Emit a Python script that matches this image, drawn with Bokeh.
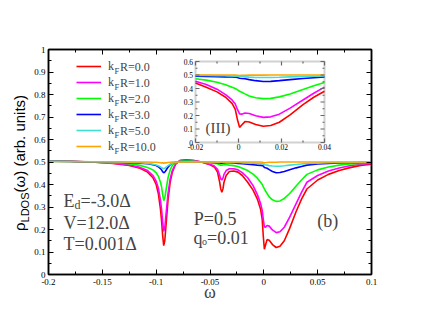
from bokeh.plotting import figure
from bokeh.models import (Range1d, LinearAxis, FixedTicker, Label, Legend, LegendItem,
                          BoxAnnotation, Div, ColumnDataSource)
from bokeh.core.properties import value
from bokeh.layouts import column
from bokeh.embed import file_html
from bokeh.resources import INLINE

# ---------------- data ----------------
omega = [-0.2, -0.18, -0.16, -0.14, -0.125, -0.115, -0.108, -0.103, -0.1, -0.098,
         -0.096, -0.095, -0.094, -0.093, -0.092, -0.091, -0.09, -0.089, -0.087, -0.085,
         -0.082, -0.078, -0.072, -0.065, -0.058, -0.05, -0.046, -0.043, -0.041, -0.04,
         -0.039, -0.038, -0.037, -0.035, -0.032, -0.028, -0.024, -0.02, -0.015, -0.01,
         -0.006, -0.003, -0.0015, -0.0005, 0.0005, 0.0015, 0.003, 0.005, 0.008, 0.0115,
         0.015, 0.019, 0.024, 0.03, 0.035, 0.04, 0.05, 0.06, 0.07, 0.08,
         0.09, 0.1]

rho_kfr_0 = [0.504, 0.503, 0.5, 0.494, 0.485, 0.472, 0.455, 0.43, 0.40, 0.36,
             0.29, 0.24, 0.175, 0.128, 0.15, 0.21, 0.27, 0.33, 0.41, 0.455,
             0.49, 0.506, 0.51, 0.507, 0.5, 0.488, 0.478, 0.455, 0.41, 0.38,
             0.366, 0.38, 0.41, 0.44, 0.458, 0.46, 0.455, 0.44, 0.41, 0.375,
             0.335, 0.29, 0.245, 0.17, 0.112, 0.13, 0.155, 0.152, 0.133, 0.12,
             0.126, 0.15, 0.205, 0.28, 0.335, 0.38, 0.42, 0.445, 0.462, 0.475,
             0.485, 0.49]

rho_kfr_1 = [0.504, 0.503, 0.5, 0.495, 0.487, 0.476, 0.462, 0.44, 0.415, 0.385,
             0.33, 0.29, 0.235, 0.192, 0.21, 0.26, 0.31, 0.36, 0.425, 0.462,
             0.492, 0.506, 0.509, 0.506, 0.5, 0.49, 0.482, 0.468, 0.44, 0.425,
             0.42, 0.428, 0.445, 0.462, 0.47, 0.47, 0.465, 0.453, 0.43, 0.395,
             0.355, 0.315, 0.285, 0.245, 0.212, 0.21, 0.218, 0.215, 0.198, 0.186,
             0.19, 0.21, 0.255, 0.315, 0.365, 0.41, 0.44, 0.46, 0.473, 0.483,
             0.49, 0.494]

rho_kfr_2 = [0.503, 0.502, 0.5, 0.497, 0.492, 0.485, 0.476, 0.465, 0.452, 0.437,
             0.41, 0.39, 0.355, 0.328, 0.34, 0.37, 0.40, 0.43, 0.465, 0.485,
             0.497, 0.503, 0.505, 0.503, 0.5, 0.496, 0.494, 0.492, 0.488, 0.486,
             0.486, 0.487, 0.488, 0.488, 0.486, 0.484, 0.48, 0.472, 0.462, 0.446,
             0.428, 0.41, 0.40, 0.39, 0.38, 0.372, 0.36, 0.345, 0.332, 0.325,
             0.327, 0.338, 0.36, 0.393, 0.42, 0.445, 0.465, 0.478, 0.486, 0.491,
             0.494, 0.496]

rho_kfr_3 = [0.503, 0.502, 0.5, 0.499, 0.497, 0.495, 0.492, 0.488, 0.484, 0.479,
             0.471, 0.465, 0.457, 0.452, 0.455, 0.462, 0.47, 0.477, 0.488, 0.495,
             0.499, 0.501, 0.502, 0.501, 0.5, 0.499, 0.498, 0.497, 0.496, 0.495,
             0.495, 0.496, 0.496, 0.497, 0.497, 0.496, 0.494, 0.492, 0.49, 0.488,
             0.486, 0.485, 0.484, 0.482, 0.476, 0.474, 0.472, 0.466, 0.458, 0.452,
             0.453, 0.458, 0.466, 0.474, 0.48, 0.486, 0.491, 0.494, 0.496, 0.497,
             0.498, 0.498]

rho_kfr_5 = [0.503, 0.502, 0.501, 0.5, 0.499, 0.497, 0.494, 0.49, 0.487, 0.483,
             0.478, 0.475, 0.472, 0.47, 0.472, 0.476, 0.48, 0.484, 0.49, 0.495,
             0.498, 0.5, 0.501, 0.501, 0.5, 0.5, 0.5, 0.499, 0.499, 0.499,
             0.499, 0.499, 0.499, 0.499, 0.499, 0.498, 0.498, 0.497, 0.496, 0.495,
             0.494, 0.493, 0.492, 0.491, 0.488, 0.487, 0.486, 0.484, 0.482, 0.481,
             0.481, 0.483, 0.486, 0.489, 0.491, 0.493, 0.495, 0.497, 0.498, 0.498,
             0.499, 0.499]

rho_kfr_10 = [0.502, 0.502, 0.501, 0.501, 0.5, 0.5, 0.5, 0.499, 0.499, 0.498,
              0.497, 0.496, 0.496, 0.495, 0.496, 0.496, 0.497, 0.498, 0.499, 0.5,
              0.5, 0.5, 0.5, 0.5, 0.5, 0.5, 0.5, 0.5, 0.5, 0.5,
              0.5, 0.5, 0.5, 0.5, 0.5, 0.5, 0.5, 0.5, 0.5, 0.5,
              0.5, 0.5, 0.499, 0.498, 0.496, 0.497, 0.498, 0.499, 0.499, 0.499,
              0.5, 0.5, 0.5, 0.5, 0.5, 0.5, 0.5, 0.5, 0.5, 0.5,
              0.5, 0.5]

series = [rho_kfr_0, rho_kfr_1, rho_kfr_2, rho_kfr_3, rho_kfr_5, rho_kfr_10]
series_labels = ["R=0.0", "R=1.0", "R=2.0", "R=3.0", "R=5.0", "R=10.0"]
series_colors = ["#ff0000", "#ff00ff", "#00ff00", "#0000ff", "#40e0d0", "#ffa500"]

x_ticks = [-0.2, -0.15, -0.1, -0.05, 0.0, 0.05, 0.1]
x_tick_labels = ["-0.2", "-0.15", "-0.1", "-0.05", "0", "0.05", "0.1"]
x_minor_ticks = [-0.175, -0.125, -0.075, -0.025, 0.025, 0.075]
y_ticks = [0.0, 0.1, 0.2, 0.3, 0.4, 0.5, 0.6, 0.7, 0.8, 0.9, 1.0]
y_tick_labels = ["0", "0.1", "0.2", "0.3", "0.4", "0.5", "0.6", "0.7", "0.8", "0.9", "1"]
y_minor_ticks = [0.05, 0.15, 0.25, 0.35, 0.45, 0.55, 0.65, 0.75, 0.85, 0.95]

inset_x_range = (-0.02, 0.04)
inset_y_range = (0.0, 0.6)
inset_x_ticks = [-0.02, 0.0, 0.02, 0.04]
inset_x_tick_labels = ["-0.02", "0", "0.02", "0.04"]
inset_x_minor_ticks = [-0.01, 0.01, 0.03]
inset_y_ticks = [0.0, 0.1, 0.2, 0.3, 0.4, 0.5, 0.6]
inset_y_tick_labels = ["0", "0.1", "0.2", "0.3", "0.4", "0.5", "0.6"]
inset_y_minor_ticks = [0.05, 0.15, 0.25, 0.35, 0.45, 0.55]

SERIF = "Liberation Serif"
SANS = "Liberation Sans"

# ---------------- layout constants (pixels) ----------------
W, H = 422, 324
FL, FT, FW, FH = 48, 49, 323, 225          # main frame: left, top, width, height
IL, IT, IW, IH = 195, 61, 129, 81          # inset frame in page pixels


def style_axis(ax, ticks, minor, labels, show_labels, size, tin, tmin, color="black", lw=1.5):
    ax.ticker = FixedTicker(ticks=ticks, minor_ticks=minor)
    if show_labels:
        ax.major_label_overrides = {t: s for t, s in zip(ticks, labels)}
        ax.major_label_text_font_size = size
    else:
        ax.major_label_overrides = {t: "" for t in ticks}
        ax.major_label_standoff = 0
        ax.major_label_text_font_size = "0px"
    ax.major_label_text_font = SERIF
    ax.major_label_text_color = "black"
    ax.major_tick_in = tin
    ax.major_tick_out = 0
    ax.minor_tick_in = tmin
    ax.minor_tick_out = 0
    ax.major_tick_line_color = color
    ax.minor_tick_line_color = color
    ax.axis_line_color = color
    ax.axis_line_width = lw


def txt(fig, x, y, s, size, font=SERIF):
    fig.add_layout(Label(x=x, y=y, x_units="screen", y_units="screen", text=s,
                         text_font=font, text_font_size=size,
                         text_baseline="alphabetic", text_align="left"))


# ---------------- main figure ----------------
p = figure(width=W, height=H, x_range=Range1d(-0.2, 0.1), y_range=Range1d(0, 1),
           output_backend="svg", toolbar_location=None, title=None,
           min_border_left=FL, min_border_right=W - FL - FW,
           min_border_top=FT, min_border_bottom=H - FT - FH)
p.xgrid.visible = False
p.ygrid.visible = False
p.outline_line_color = "black"
p.outline_line_width = 1.5
p.background_fill_color = "white"
p.border_fill_color = "white"

style_axis(p.xaxis[0], x_ticks, x_minor_ticks, x_tick_labels, True, "9px", 5, 3)
style_axis(p.yaxis[0], y_ticks, y_minor_ticks, y_tick_labels, True, "9px", 5, 3)
p.xaxis[0].major_label_standoff = 4
p.yaxis[0].major_label_standoff = 3
p.xaxis[0].axis_label = "ω"
p.xaxis[0].axis_label_text_font = SERIF
p.xaxis[0].axis_label_text_font_style = "normal"
p.xaxis[0].axis_label_text_font_size = "18px"
p.xaxis[0].axis_label_standoff = -6

top_axis = LinearAxis()
style_axis(top_axis, x_ticks, x_minor_ticks, x_tick_labels, False, "9px", 5, 3)
p.add_layout(top_axis, "above")
right_axis = LinearAxis()
style_axis(right_axis, y_ticks, y_minor_ticks, y_tick_labels, False, "9px", 5, 3)
p.add_layout(right_axis, "right")

renderers = []
for vals, col in zip(series, series_colors):
    r = p.line(omega, vals, line_color=col, line_width=1.6)
    renderers.append(r)

legend = Legend(items=[LegendItem(label="k", renderers=[r]) for r in renderers],
                location=(28, 120), orientation="vertical",
                glyph_width=25, glyph_height=16, label_height=16, label_width=5,
                spacing=0, padding=0, margin=0, label_standoff=7,
                border_line_alpha=0, background_fill_alpha=0,
                label_text_font=SERIF, label_text_font_size="12px")
p.add_layout(legend)

for i, lab in enumerate(series_labels):
    cy = 120 + 96 - 8 - 16 * i
    p.add_layout(Label(x=66, y=cy - 4, x_units="screen", y_units="screen", text="F",
                       text_font=SERIF, text_font_size="8.5px", text_baseline="middle"))
    p.add_layout(Label(x=71.5, y=cy, x_units="screen", y_units="screen", text=lab,
                       text_font=SERIF, text_font_size="12px", text_baseline="middle"))

txt(p, 15, 74, "E", "18px")
txt(p, 26, 70, "d", "12px")
txt(p, 32, 74, "=-3.0Δ", "18px")
txt(p, 15, 51.7, "V=12.0Δ", "18px")
txt(p, 15, 30.7, "T=0.001Δ", "18px")
txt(p, 145.3, 55.7, "P=0.5", "18px")
txt(p, 145, 36.7, "q", "18px")
txt(p, 153.5, 33, "o", "10px")
txt(p, 158.5, 36.7, "=0.01", "18px")
txt(p, 268.7, 54, "(b)", "18px")

# ---------------- inset drawn inside the main frame through extra ranges ----------------
ix0, ix1 = inset_x_range
iy0, iy1 = inset_y_range
xpx = IW / (ix1 - ix0)
ypx = IH / (iy1 - iy0)
p.extra_x_ranges = {"ix": Range1d(ix0 - (IL - FL) / xpx, ix1 + (FL + FW - IL - IW) / xpx)}
p.extra_y_ranges = {"iy": Range1d(iy0 - (FT + FH - IT - IH) / ypx, iy1 + (IT - FT) / ypx)}

p.add_layout(BoxAnnotation(left=ix0, right=ix1, bottom=iy0, top=iy1,
                           x_range_name="ix", y_range_name="iy", level="underlay",
                           fill_color="white", fill_alpha=1.0,
                           line_color="#666666", line_width=2))

inset_idx = [i for i, w in enumerate(omega) if ix0 <= w <= ix1]
inset_omega = [omega[i] for i in inset_idx]
for vals, col in zip(series, series_colors):
    p.line(inset_omega, [vals[i] for i in inset_idx], line_color=col, line_width=1.6,
           x_range_name="ix", y_range_name="iy")

# inset ticks (inward, on all four sides)
TICK_MAJ, TICK_MIN = 4, 2
seg_x0, seg_y0, seg_x1, seg_y1 = [], [], [], []
for ticks, ln in ((inset_x_ticks, TICK_MAJ), (inset_x_minor_ticks, TICK_MIN)):
    for t in ticks:
        seg_x0 += [t, t]
        seg_x1 += [t, t]
        seg_y0 += [iy0, iy1]
        seg_y1 += [iy0 + ln / ypx, iy1 - ln / ypx]
for ticks, ln in ((inset_y_ticks, TICK_MAJ), (inset_y_minor_ticks, TICK_MIN)):
    for t in ticks:
        seg_y0 += [t, t]
        seg_y1 += [t, t]
        seg_x0 += [ix0, ix1]
        seg_x1 += [ix0 + ln / xpx, ix1 - ln / xpx]
p.segment(x0=seg_x0, y0=seg_y0, x1=seg_x1, y1=seg_y1, line_color="#666666", line_width=1.2,
          x_range_name="ix", y_range_name="iy")

p.text(x=inset_x_ticks, y=[iy0] * len(inset_x_ticks), text=inset_x_tick_labels,
       x_range_name="ix", y_range_name="iy", text_align="center", text_baseline="top",
       y_offset=1, text_font=value(SERIF), text_font_size=value("7.5px"), text_color="black")
p.text(x=[ix0] * len(inset_y_ticks), y=inset_y_ticks, text=inset_y_tick_labels,
       x_range_name="ix", y_range_name="iy", text_align="right", text_baseline="middle",
       x_offset=-2.5, text_font=value(SERIF), text_font_size=value("7.5px"), text_color="black")
txt(p, 157, 146.5, "(III)", "15px")

# ---------------- rotated y-axis title with a real subscript ----------------
ytitle = Div(text='ρ<sub style="font-size:11px">LDOS</sub>(ω) (arb. units)', margin=0,
             styles={"position": "absolute", "left": "12px", "top": "231px",
                     "transform": "rotate(-90deg)", "transform-origin": "0 0",
                     "font-family": SANS, "font-size": "15px", "white-space": "nowrap",
                     "line-height": "1", "color": "black"})

layout = column(p, ytitle)
open("out.html", "w").write(file_html(layout, INLINE))
